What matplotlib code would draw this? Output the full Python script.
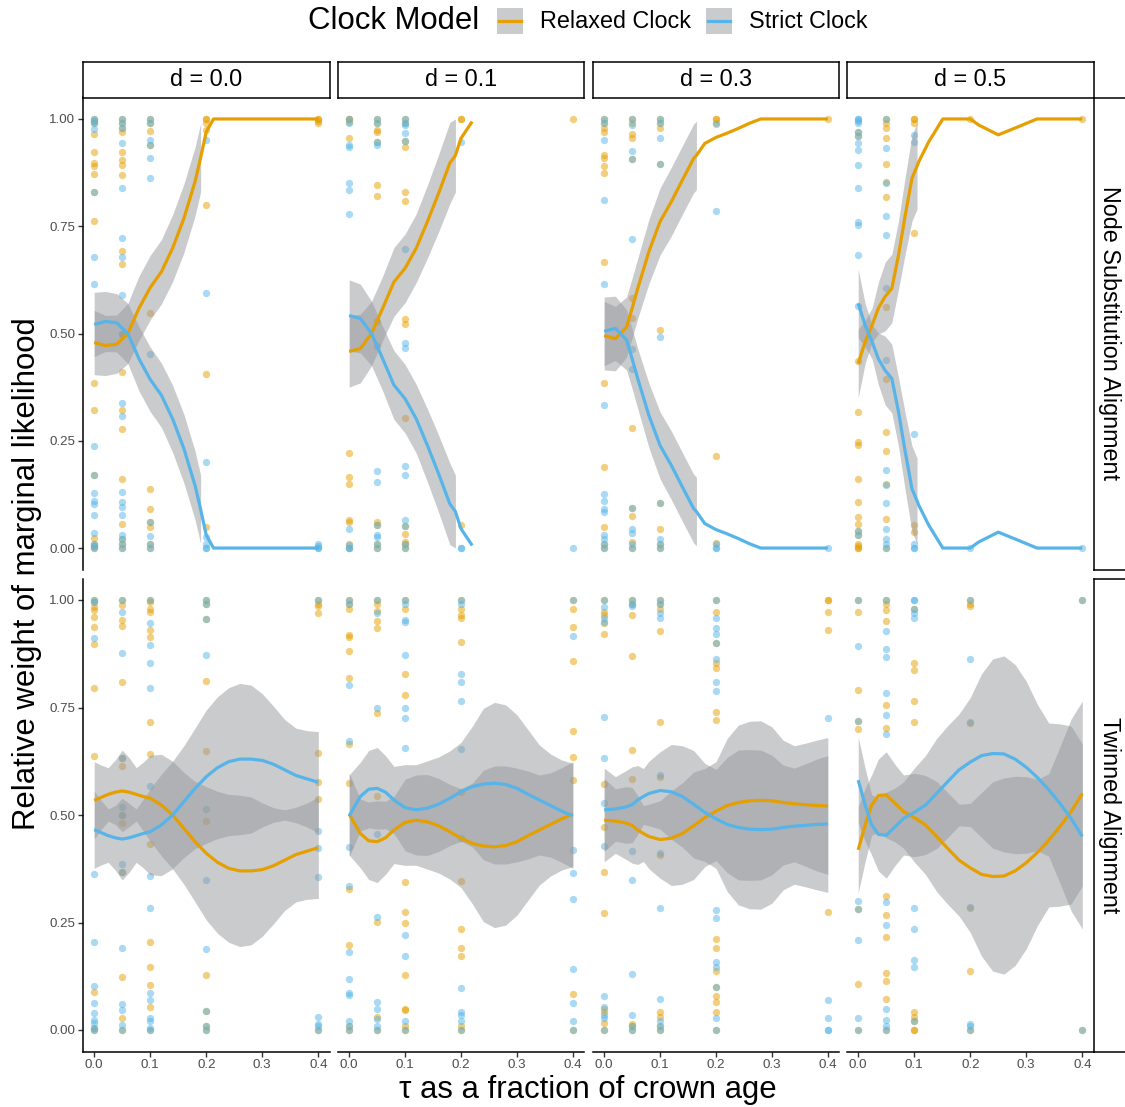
import numpy as np
import matplotlib
matplotlib.use("Agg")
import matplotlib.pyplot as plt
from matplotlib.patches import Rectangle
from matplotlib.lines import Line2D

plt.rcParams['font.family'] = ['Liberation Sans', 'DejaVu Sans']

nan = np.nan

# ---- data -------------------------------------------------------------
tau = [0.0, 0.05, 0.1, 0.2, 0.4]
d_labels = ["d = 0.0", "d = 0.1", "d = 0.3", "d = 0.5"]
row_labels = ["Node Substitution Alignment", "Twinned Alignment"]
models = ["Relaxed Clock", "Strict Clock"]

# relative weight of the relaxed clock for each replicate, one list per tau
# (strict clock weight of the same replicate is 1 - relaxed)
node_d00 = [
    [1.0, 0.0, 0.995, 0.005, 0.99, 0.01, 0.964, 0.922, 0.897, 0.89, 0.872, 0.83, 0.762, 0.384, 0.322, 0.17, 0.023],
    [1.0, 0.0, 0.99, 0.01, 0.98, 0.02, 0.97, 0.922, 0.905, 0.893, 0.869, 0.693, 0.661, 0.5, 0.411, 0.322, 0.277, 0.162, 0.057],
    [1.0, 0.0, 0.99, 0.01, 0.972, 0.94, 0.06, 0.547, 0.137, 0.092, 0.05],
    [1.0, 1.0, 0.99, 0.974, 0.8, 0.405, 0.05],
    [1.0, 1.0, 0.995, 0.99],
]
node_d01 = [
    [1.0, 0.0, 0.994, 0.955, 0.222, 0.165, 0.15, 0.065, 0.06, 0.01, 1.0],
    [1.0, 0.0, 0.99, 0.974, 0.97, 0.846, 0.821, 0.529, 0.061, 0.947, 0.053, 0.01],
    [1.0, 0.99, 0.01, 0.935, 0.83, 0.809, 0.534, 0.522, 0.304, 0.949, 0.051, 0.033, 0.015, 0.0],
    [1.0, 1.0, 0.053],
    [1.0],
]
node_d03 = [
    [1.0, 0.0, 0.99, 0.01, 0.978, 0.97, 0.916, 0.909, 0.89, 0.873, 0.667, 0.384, 0.19, 0.048],
    [1.0, 0.99, 0.966, 0.956, 0.075, 0.906, 0.094, 0.583, 0.537, 0.279, 0.015, 0.0],
    [1.0, 0.0, 0.99, 0.978, 0.045, 0.894, 0.106, 0.507, 0.01],
    [1.0, 1.0, 0.99, 0.214, 0.012],
    [1.0],
]
node_d05 = [
    [0.0, 0.0, 0.005, 0.01, 0.03, 0.97, 0.04, 0.96, 0.055, 0.072, 0.107, 0.16, 0.24, 0.248, 0.316, 0.436],
    [1.0, 0.0, 0.99, 0.978, 0.956, 0.068, 0.895, 0.852, 0.15, 0.817, 0.226, 0.27, 0.394, 0.561],
    [1.0, 1.0, 0.99, 0.735, 0.037, 0.053],
    [1.0],
    [1.0],
]
twin_d00 = [
    [1.0, 0.0, 0.995, 0.005, 0.984, 0.977, 0.961, 0.938, 0.898, 0.795, 0.638, 0.089],
    [1.0, 0.0, 0.988, 0.027, 0.953, 0.94, 0.124, 0.81, 0.632, 0.368, 0.615, 0.481, 0.5],
    [1.0, 0.0, 0.995, 0.98, 0.973, 0.93, 0.915, 0.717, 0.641, 0.432, 0.205, 0.147, 0.105, 0.054],
    [1.0, 0.0, 0.99, 0.01, 0.812, 0.65, 0.487, 0.128, 0.045, 0.955],
    [1.0, 0.0, 0.99, 0.985, 0.97, 0.645, 0.576, 0.537],
]
twin_d01 = [
    [1.0, 0.0, 0.99, 0.01, 0.98, 0.918, 0.915, 0.881, 0.818, 0.664, 0.574, 0.329, 0.198],
    [1.0, 0.0, 0.99, 0.975, 0.951, 0.936, 0.738, 0.545, 0.252, 0.03],
    [1.0, 0.0, 0.98, 0.827, 0.778, 0.345, 0.274, 0.25, 0.128, 0.05, 0.047, 0.01],
    [1.0, 0.0, 0.98, 0.965, 0.957, 0.903, 0.554, 0.347, 0.235, 0.191, 0.173, 0.01],
    [1.0, 0.0, 0.98, 0.938, 0.857, 0.695, 0.636, 0.581, 0.083],
]
twin_d03 = [
    [1.0, 0.0, 0.971, 0.965, 0.946, 0.922, 0.571, 0.471, 0.367, 0.271, 0.05, 0.043, 0.016],
    [1.0, 0.0, 0.99, 0.965, 0.87, 0.651, 0.584, 0.015, 0.01],
    [1.0, 0.0, 0.99, 0.98, 0.929, 0.716, 0.589, 0.407, 0.043, 0.031, 0.01],
    [1.0, 0.0, 0.971, 0.899, 0.853, 0.841, 0.739, 0.721, 0.211, 0.191, 0.137, 0.101, 0.078, 0.066, 0.041],
    [1.0, 1.0, 0.971, 0.93, 0.275],
]
twin_d05 = [
    [1.0, 0.0, 0.971, 0.791, 0.719, 0.7, 0.281, 0.106],
    [1.0, 0.0, 0.99, 0.977, 0.952, 0.756, 0.702, 0.312, 0.267, 0.216, 0.133, 0.114, 0.072],
    [0.0, 0.0, 0.98, 0.853, 0.837, 0.764, 0.717, 0.043, 0.03, 0.02],
    [1.0, 0.0, 0.99, 0.985, 0.713, 0.283, 0.137],
    [1.0, 0.0],
]

# loess fit of the relaxed clock weight and the
# half width of its confidence band; nan = dropped outside the 0..1 scale
node_d00_fx = [0, .02, .04, .06, .08, .1, .12, .14, .16, .18, .19, .2, .213, .4]
node_d00_fit = [.479, .472, .475, .50, .559, .607, .644, .699, .768, .854, .91, .97, 1.0, 1.0]
node_d00_se = [.075, .07, .068, .07, .075, .075, .075, .078, .08, .08, .08, nan, nan, nan]

node_d01_fx = [0, .02, .04, .06, .08, .1, .12, .14, .16, .18, .19, .2, .22]
node_d01_fit = [.458, .465, .50, .559, .62, .652, .699, .761, .827, .897, .915, .955, .994]
node_d01_se = [.083, .08, .075, .075, .08, .08, .08, .085, .09, .095, .085, nan, nan]

node_d03_fx = [0, .02, .04, .05, .06, .08, .1, .12, .14, .16, .165, .18, .2, .22, .24, .26, .28, .4]
node_d03_fit = [.495, .488, .515, .559, .605, .691, .761, .807, .858, .908, .915, .943, .957, .967, .978, .99, 1.0, 1.0]
node_d03_se = [.08, .075, .07, .07, .07, .075, .078, .08, .08, .08, .08, nan, nan, nan, nan, nan, nan, nan]

node_d05_fx = [0, .0125, .025, .036, .048, .06, .072, .084, .096, .105, .108, .126, .151, .2, .215, .25, .286, .319, .4]
node_d05_fit = [.43, .481, .52, .559, .586, .605, .683, .776, .862, .89, .90, .947, 1.0, 1.0, .986, .963, .982, 1.0, 1.0]
node_d05_se = [.08, .05, .04, .06, .08, .08, .08, .09, .1, .1, nan, nan, nan, nan, nan, nan, nan, nan, nan]

twin_d00_fx = [0, .0125, .025, .0375, .05, .0625, .075, .0875, .1, .12, .14, .16, .18, .2, .22, .24, .26, .28, .3, .32, .34, .36, .38, .4]
twin_d00_fit = [.534, .541, .548, .553, .556, .553, .548, .543, .539, .523, .50, .469, .438, .411, .39, .376, .37, .37, .373, .382, .395, .408, .416, .424]
twin_d00_se = [.09, .075, .062, .075, .095, .08, .062, .08, .1, .118, .125, .13, .14, .155, .165, .172, .176, .172, .155, .135, .117, .11, .112, .118]

twin_d01_fx = [0, .02, .035, .05, .065, .08, .1, .12, .14, .16, .18, .2, .22, .24, .26, .28, .3, .32, .34, .36, .38, .4]
twin_d01_fit = [.502, .457, .440, .438, .447, .465, .483, .488, .484, .475, .461, .446, .434, .428, .426, .429, .438, .452, .465, .478, .491, .502]
twin_d01_se = [.095, .08, .09, .095, .085, .078, .10, .105, .11, .11, .11, .115, .14, .176, .188, .185, .171, .15, .128, .12, .119, .122]

twin_d03_fx = [0, .02, .04, .05, .06, .07, .08, .1, .12, .14, .16, .18, .2, .22, .24, .26, .28, .3, .32, .34, .36, .38, .4]
twin_d03_fit = [.488, .486, .481, .476, .465, .457, .45, .443, .446, .457, .475, .494, .509, .522, .529, .533, .534, .533, .529, .526, .524, .522, .521]
twin_d03_se = [.097, .075, .085, .088, .08, .065, .075, .09, .11, .118, .125, .114, .115, .156, .18, .185, .185, .172, .145, .135, .143, .152, .159]

twin_d05_fx = [0, .0125, .024, .036, .05, .066, .081, .1, .12, .14, .16, .18, .2, .22, .24, .26, .28, .3, .32, .34, .36, .38, .4]
twin_d05_fit = [.419, .477, .523, .545, .547, .527, .508, .494, .477, .45, .422, .395, .377, .362, .357, .358, .37, .389, .413, .441, .473, .508, .55]
twin_d05_se = [.10, .085, .07, .085, .10, .09, .085, .103, .115, .128, .13, .13, .15, .19, .22, .228, .22, .2, .17, .155, .185, .215, .215]

panels = [
    [(node_d00, node_d00_fx, node_d00_fit, node_d00_se),
     (node_d01, node_d01_fx, node_d01_fit, node_d01_se),
     (node_d03, node_d03_fx, node_d03_fit, node_d03_se),
     (node_d05, node_d05_fx, node_d05_fit, node_d05_se)],
    [(twin_d00, twin_d00_fx, twin_d00_fit, twin_d00_se),
     (twin_d01, twin_d01_fx, twin_d01_fit, twin_d01_se),
     (twin_d03, twin_d03_fx, twin_d03_fit, twin_d03_se),
     (twin_d05, twin_d05_fx, twin_d05_fit, twin_d05_se)],
]

# ---- style ------------------------------------------------------------
ORANGE = "#E69F00"
BLUE = "#56B4E9"
RIBBON = "#96989c"
W, H = 1125, 1107

fig = plt.figure(figsize=(W / 100, H / 100), dpi=100)


def px_axes(left, top, right, bottom):
    return fig.add_axes([left / W, 1 - bottom / H, (right - left) / W, (bottom - top) / H])


col_edges = [(83, 329.5), (338, 584), (593, 839), (847, 1093.5)]
row_edges = [(97.5, 569.5), (578.5, 1051.5)]

for r, (top, bottom) in enumerate(row_edges):
    for c, (left, right) in enumerate(col_edges):
        ax = px_axes(left, top, right, bottom)
        pts, fx, fit, se = panels[r][c]
        ax.set_xlim(-0.02, 0.42)
        ax.set_ylim(-0.05, 1.05)
        ax.patch.set_alpha(0)

        xs = np.concatenate([[t] * len(v) for t, v in zip(tau, pts)])
        ys = np.concatenate(pts)
        ax.scatter(xs, ys, s=28, color=ORANGE, alpha=0.5, lw=0)
        ax.scatter(xs, 1 - ys, s=28, color=BLUE, alpha=0.5, lw=0)

        fx = np.array(fx)
        fit = np.array(fit)
        se = np.array(se)
        for yfit, col in [(fit, ORANGE), (1 - fit, BLUE)]:
            ax.fill_between(fx, yfit - se, yfit + se, color=RIBBON, alpha=0.5, lw=0)
            ok = ~np.isnan(yfit)
            ax.plot(fx[ok], yfit[ok], color=col, lw=2.3,
                    solid_joinstyle="round", solid_capstyle="butt")

        for s in ["top", "right", "left", "bottom"]:
            ax.spines[s].set_visible(False)
        if c == 0:
            ax.spines["left"].set_visible(True)
            ax.spines["left"].set_linewidth(1.1)
            ax.set_yticks([0, 0.25, 0.5, 0.75, 1.0])
            ax.set_yticklabels(["0.00", "0.25", "0.50", "0.75", "1.00"])
            ax.tick_params(axis="y", length=3.3, width=1.0, color="#333333",
                           labelsize=9.6, labelcolor="#4D4D4D", pad=2.2)
        else:
            ax.set_yticks([])
        if r == 1:
            ax.spines["bottom"].set_visible(True)
            ax.spines["bottom"].set_linewidth(1.1)
            ax.set_xticks([0, 0.1, 0.2, 0.3, 0.4])
            ax.set_xticklabels(["0.0", "0.1", "0.2", "0.3", "0.4"])
            ax.tick_params(axis="x", length=3.3, width=1.0, color="#333333",
                           labelsize=9.6, labelcolor="#4D4D4D", pad=2.2)
        else:
            ax.set_xticks([])

# strips
for c, (left, right) in enumerate(col_edges):
    sa = px_axes(left, 62, right, 97.5)
    sa.set_xticks([])
    sa.set_yticks([])
    for s in sa.spines.values():
        s.set_linewidth(1.1)
    sa.text(0.5, 0.5, d_labels[c], ha="center", va="center", fontsize=16.8,
            transform=sa.transAxes)

for r, (top, bottom) in enumerate(row_edges):
    sa = px_axes(1094, top, 1131, bottom)
    sa.set_xticks([])
    sa.set_yticks([])
    for s in sa.spines.values():
        s.set_linewidth(1.1)
    sa.text(0.42, 0.5, row_labels[r], ha="center", va="center", fontsize=16.8,
            rotation=-90, transform=sa.transAxes)

# axis titles
fig.text(27 / W, 1 - 574 / H, "Relative weight of marginal likelihood",
         rotation=90, ha="center", va="center", fontsize=22.4)
fig.text(588 / W, 1 - 1090 / H, "\u03c4 as a fraction of crown age",
         ha="center", va="center", fontsize=22.4)

# legend
fig.text(394 / W, 1 - 21 / H, "Clock Model", ha="center", va="center", fontsize=22.4)
for (kx, lx), label, col in zip([(497, 540), (706, 749)], models, [ORANGE, BLUE]):
    fig.add_artist(Rectangle((kx / W, 1 - 34 / H), 26 / W, 26 / H,
                             transform=fig.transFigure, color=RIBBON, alpha=0.5, lw=0))
    fig.add_artist(Line2D([(kx + 2) / W, (kx + 24) / W], [1 - 21 / H, 1 - 21 / H],
                          transform=fig.transFigure, color=col, lw=2.3))
    fig.text(lx / W, 1 - 21 / H, label, ha="left", va="center", fontsize=16.8)

fig.savefig("out.png", dpi=100)
